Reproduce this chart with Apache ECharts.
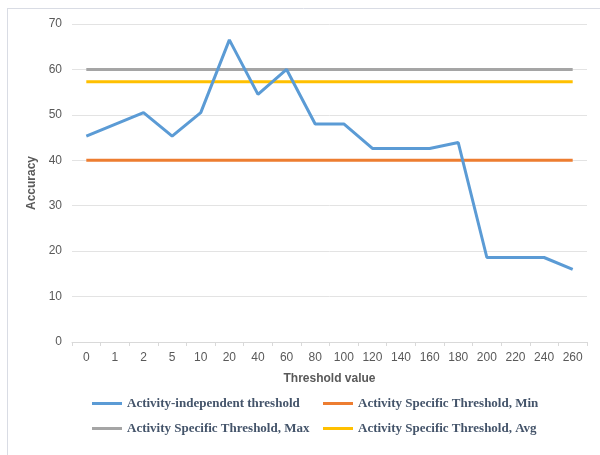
<!DOCTYPE html>
<html>
<head>
<meta charset="utf-8">
<script src="https://cdn.jsdelivr.net/npm/echarts@6/dist/echarts.min.js"></script>
<style>html,body{margin:0;padding:0;background:#fff}#c{width:600px;height:455px}</style>
</head>
<body>
<div id="c"></div>
<script>
var categories = ['0','1','2','5','10','20','40','60','80','100','120','140','160','180','200','220','240','260'];
var independent = [45.3, 47.9, 50.5, 45.3, 50.5, 66.5, 54.5, 60, 48, 48, 42.6, 42.6, 42.6, 43.9, 18.6, 18.6, 18.6, 16.0];
var specificMin = 40;
var specificMax = 60;
var specificAvg = 57.3;
var seriesNames = ['Activity-independent threshold', 'Activity Specific Threshold, Min', 'Activity Specific Threshold, Max', 'Activity Specific Threshold, Avg'];
var yTicks = {min: 0, max: 70, interval: 10};

function constant(v){ return categories.map(function(){ return v; }); }

var chart = echarts.init(document.getElementById('c'), null, {renderer:'canvas'});
var legendText = {fontFamily:'Liberation Serif', fontWeight:'bold', fontSize:13, color:'#44546a'};
var legendPos = [[92,397],[323,397],[92,422],[323,422]];
var colors = ['#5b9bd5','#ed7d31','#a5a5a5','#ffc000'];
var option = {
  animation:false,
  color: colors,
  grid:{left:72, right:13, top:24, bottom:113},
  graphic:[
    {type:'line', shape:{x1:7,y1:8.5,x2:600,y2:8.5}, style:{stroke:'#d9dce4', lineWidth:1}, silent:true},
    {type:'line', shape:{x1:7.5,y1:8,x2:7.5,y2:455}, style:{stroke:'#d9dce4', lineWidth:1}, silent:true}
  ],
  legend: seriesNames.map(function(n,i){
    return {data:[n], left:legendPos[i][0], top:legendPos[i][1], icon:'rect', itemWidth:30, itemHeight:3, itemGap:0, textStyle:legendText, padding:0};
  }),
  xAxis:{
    type:'category', data:categories, boundaryGap:true,
    name:'Threshold value', nameLocation:'middle', nameGap:31,
    nameTextStyle:{fontFamily:'Liberation Sans', fontWeight:'bold', fontSize:12, color:'#595959'},
    axisLine:{lineStyle:{color:'#d9d9d9', width:1}},
    axisTick:{show:true, length:4, lineStyle:{color:'#d9d9d9'}},
    axisLabel:{fontFamily:'Liberation Sans', fontSize:12, color:'#595959', margin:10, interval:0}
  },
  yAxis:{
    type:'value', min:yTicks.min, max:yTicks.max, interval:yTicks.interval,
    name:'Accuracy', nameLocation:'middle', nameGap:27, nameRotate:90,
    nameTextStyle:{fontFamily:'Liberation Sans', fontWeight:'bold', fontSize:12, color:'#595959'},
    axisLine:{show:false}, axisTick:{show:false},
    axisLabel:{fontFamily:'Liberation Sans', fontSize:12, color:'#595959', margin:10},
    splitLine:{lineStyle:{color:'#e3e3e3', width:1}}
  },
  series:[
    {name:seriesNames[0], type:'line', data:independent, symbol:'none', lineStyle:{width:3, color:colors[0]}, z:5},
    {name:seriesNames[1], type:'line', data:constant(specificMin), symbol:'none', lineStyle:{width:3, color:colors[1]}, z:3},
    {name:seriesNames[2], type:'line', data:constant(specificMax), symbol:'none', lineStyle:{width:3, color:colors[2]}, z:3},
    {name:seriesNames[3], type:'line', data:constant(specificAvg), symbol:'none', lineStyle:{width:3, color:colors[3]}, z:3}
  ]
};
chart.setOption(option);
</script>
</body>
</html>
